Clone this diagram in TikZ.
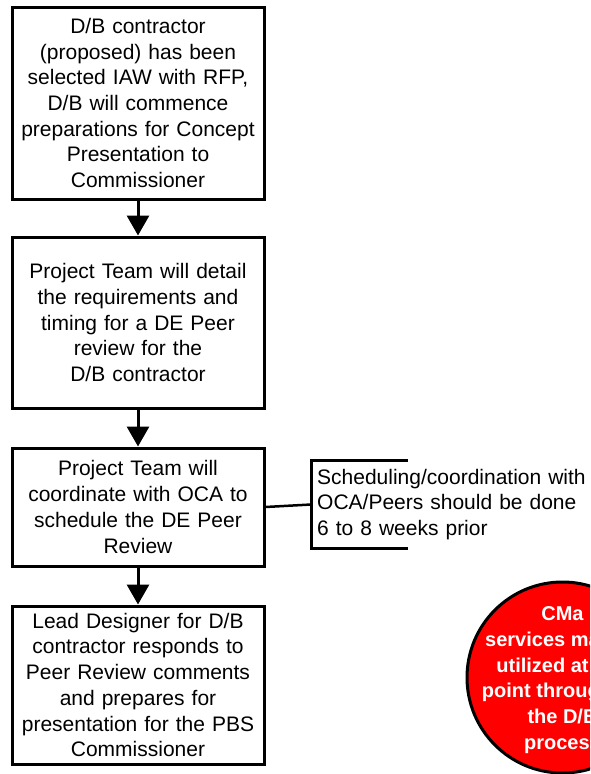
\documentclass[tikz,border=0pt]{standalone}
\usepackage{fontspec}
\setmainfont{Liberation Sans}
\usetikzlibrary{arrows.meta}
\begin{document}
\begin{tikzpicture}[x=1pt,y=-1pt,
  stepbox/.style={draw,line width=3pt,minimum width=252pt,inner sep=0pt,text width=250pt,align=center,font=\fontsize{21}{25.7}\selectfont},
  flow/.style={line width=3pt,-{Triangle[length=20pt,width=22pt]}},
  notebox/.style={anchor=west,inner xsep=6pt,inner ysep=0pt,text width=280pt,align=left,font=\fontsize{21}{25.7}\selectfont},
  bracket/.style={line width=3pt},
  link/.style={line width=2.5pt},
  cmacircle/.style={circle,draw,line width=3pt,fill=red,minimum size=191pt,inner sep=0pt},
  cmatext/.style={text=white,align=center,inner sep=0pt,font=\bfseries\fontsize{20}{25.7}\selectfont}]
\useasboundingbox (0,0) rectangle (590,774);
\clip (0,0) rectangle (590,774);

\node[stepbox,minimum height=192pt] (b1) at (138,103) {D/B contractor\\(proposed) has been\\selected IAW with RFP,\\D/B will commence\\preparations for Concept\\Presentation to\\Commissioner};
\node[stepbox,minimum height=171pt] (b2) at (138,322.5) {Project Team will detail\\the requirements and\\timing for a DE Peer\\review for the\\D/B contractor};
\node[stepbox,minimum height=118pt] (b3) at (138,507) {Project Team will\\coordinate with OCA to\\schedule the DE Peer\\Review};
\node[stepbox,minimum height=158pt] (b4) at (138,685) {Lead Designer for D/B\\contractor responds to\\Peer Review comments\\and prepares for\\presentation for the PBS\\Commissioner};

\draw[flow] (b1) -- (b2);
\draw[flow] (b2) -- (b3);
\draw[flow] (b3) -- (b4);

\node[notebox,minimum height=87pt] (note) at (311,504.5) {Scheduling/coordination with\\OCA/Peers should be done\\6 to 8 weeks prior};
\draw[bracket] ([xshift=97pt]note.north west) -- (note.north west) -- (note.south west) -- ([xshift=97pt]note.south west);
\draw[link] (b3.east) -- (note.west);

\node[cmacircle] (cma) at (562.5,677.5) {};
\node[cmatext] (cmatxt) at (562.5,680) {CMa\\services may be\\utilized at any\\point throughout\\the D/B\\process};
\end{tikzpicture}
\end{document}
